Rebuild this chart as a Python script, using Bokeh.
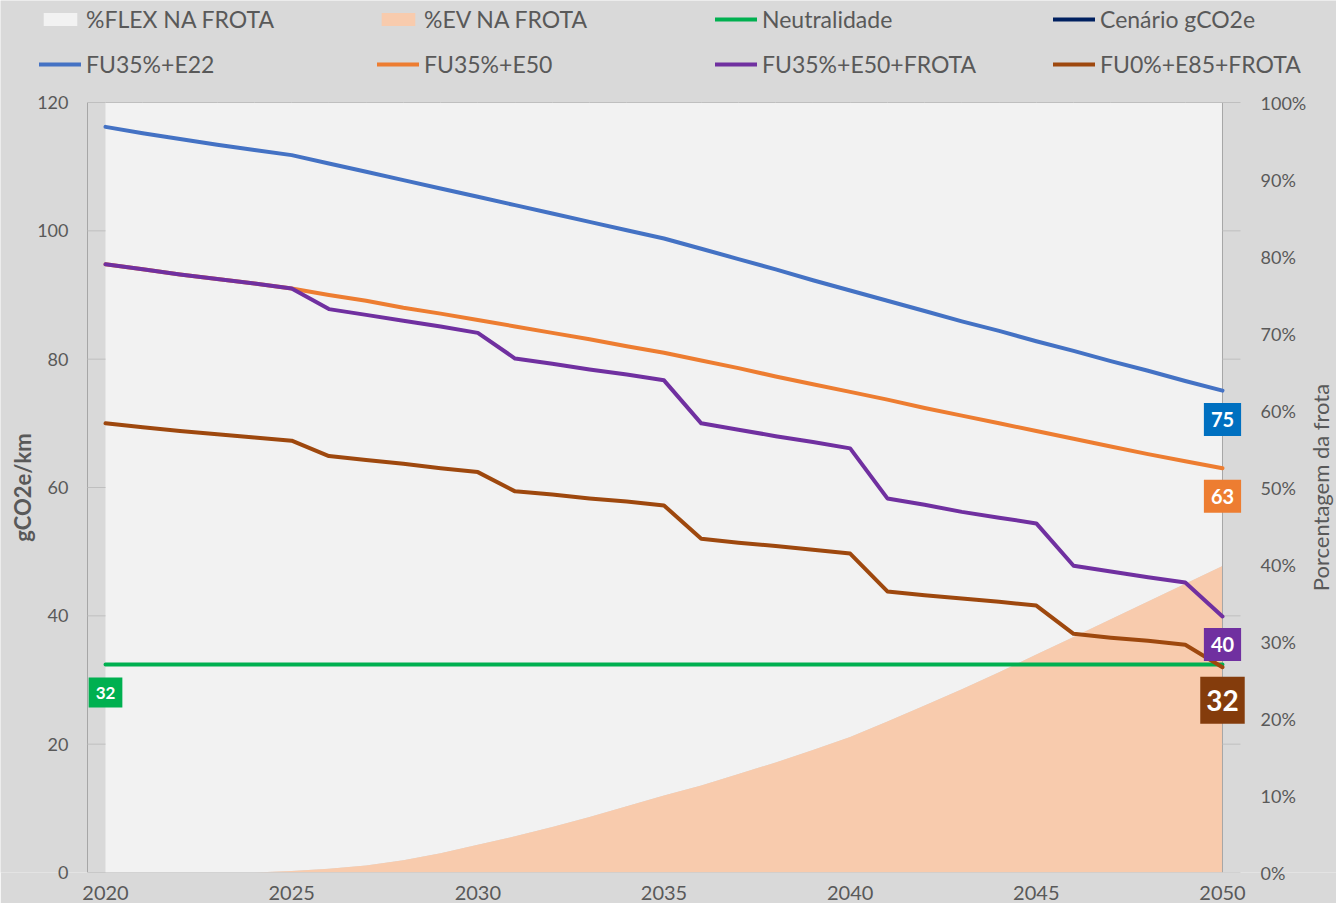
import math
from bokeh.plotting import figure
from bokeh.models import (Range1d, LinearAxis, FixedTicker, NumeralTickFormatter,
                          Legend, LegendItem, Label)
from bokeh.embed import file_html
from bokeh.resources import INLINE

# ---------------- data ----------------
years = list(range(2020, 2051))

fu35_e22 = [116.2, 115.2, 114.3, 113.4, 112.6, 111.8, 110.5, 109.2, 107.9, 106.6,
            105.3, 104.0, 102.7, 101.4, 100.1, 98.8, 97.2, 95.6, 94.0, 92.3,
            90.7, 89.1, 87.5, 85.9, 84.4, 82.8, 81.3, 79.7, 78.2, 76.6, 75.1]

fu35_e50 = [94.8, 94.0, 93.2, 92.5, 91.8, 91.0, 90.0, 89.1, 88.0, 87.1,
            86.1, 85.1, 84.1, 83.1, 82.0, 81.0, 79.8, 78.6, 77.3, 76.1,
            74.9, 73.7, 72.4, 71.2, 70.0, 68.8, 67.6, 66.4, 65.2, 64.1, 63.0]

fu35_e50_frota = [94.8, 94.0, 93.2, 92.5, 91.8, 91.0, 87.8, 86.9, 86.0, 85.1,
                  84.1, 80.1, 79.3, 78.4, 77.6, 76.7, 70.0, 69.0, 68.0, 67.1,
                  66.1, 58.3, 57.3, 56.2, 55.3, 54.4, 47.8, 46.9, 46.0, 45.2, 39.9]

fu0_e85_frota = [70.0, 69.4, 68.8, 68.3, 67.8, 67.3, 64.9, 64.3, 63.7, 63.0,
                 62.4, 59.4, 58.9, 58.3, 57.8, 57.2, 52.0, 51.4, 50.9, 50.3,
                 49.7, 43.8, 43.2, 42.7, 42.2, 41.6, 37.2, 36.6, 36.1, 35.5, 32.0]

neutralidade = [32.4, 32.4, 32.4, 32.4, 32.4, 32.4, 32.4, 32.4, 32.4, 32.4,
                32.4, 32.4, 32.4, 32.4, 32.4, 32.4, 32.4, 32.4, 32.4, 32.4,
                32.4, 32.4, 32.4, 32.4, 32.4, 32.4, 32.4, 32.4, 32.4, 32.4, 32.4]

# "Cenário gCO2e" appears only in the legend (no visible line)
cenario = [math.nan]

ev_pct = [0.0, 0.0, 0.0, 0.0, 0.0, 0.2, 0.5, 0.9, 1.6, 2.5,
          3.6, 4.7, 5.9, 7.2, 8.6, 10.0, 11.3, 12.8, 14.3, 15.9,
          17.6, 19.6, 21.7, 23.8, 26.0, 28.3, 30.6, 32.9, 35.2, 37.5, 39.8]

x_ticks = [2020, 2025, 2030, 2035, 2040, 2045, 2050]
y_ticks = [0, 20, 40, 60, 80, 100, 120]
pct_ticks = [0, 10, 20, 30, 40, 50, 60, 70, 80, 90, 100]

legend_labels = ["%FLEX NA FROTA", "%EV NA FROTA", "Neutralidade", "Cenário gCO2e",
                 "FU35%+E22", "FU35%+E50", "FU35%+E50+FROTA", "FU0%+E85+FROTA"]
left_title = "gCO2e/km"
right_title = "Porcentagem da frota"

# derived shares (0-1) for the stacked 100% area
ev_share = [v / 100 for v in ev_pct]
total_share = [1.0 for _ in years]

# ---------------- style ----------------
BG = "#D9D9D9"
TXT = "#595959"
AX = "#A6A6A6"
TICK = "#BFBFBF"
FONT = "Lato"
C_FLEX = "#F2F2F2"
C_EV = "#F8CBAD"
C_GREEN = "#00B050"
C_NAVY = "#002060"
C_BLUE = "#4472C4"
C_ORANGE = "#ED7D31"
C_PURPLE = "#7030A0"
C_BROWN = "#9E480E"

W, H = 1336, 903
B_BOTTOM = 31
FRAME_H = H - B_BOTTOM                  # 872
PX_PER_YEAR = 37.233
x_start = years[0] - 105 / PX_PER_YEAR
x_end = x_start + W / PX_PER_YEAR
axis_left_x = years[0] - 18 / PX_PER_YEAR   # left value-axis line, half a slot before 2020
PX_PER_UNIT = 770 / 120
y_end = FRAME_H / PX_PER_UNIT

p = figure(width=W, height=H,
           x_range=Range1d(x_start, x_end), y_range=Range1d(0, y_end),
           output_backend="svg", toolbar_location=None,
           min_border_left=0, min_border_right=0,
           min_border_top=0, min_border_bottom=B_BOTTOM,
           background_fill_color=BG, border_fill_color=BG,
           outline_line_color=None)
p.extra_y_ranges = {"pct": Range1d(0, y_end / 120)}
p.xgrid.grid_line_color = None
p.ygrid.grid_line_color = None

flex_r = p.varea(x=years, y1=ev_share, y2=total_share, y_range_name="pct", fill_color=C_FLEX)
ev_r = p.varea(x=years, y1=[0.0 for _ in years], y2=ev_share, y_range_name="pct", fill_color=C_EV)
p.line(x=years, y=total_share, y_range_name="pct", line_color=TICK, line_width=1)

# axis lines and tick marks of the plot area
p.segment(x0=[axis_left_x], y0=[y_ticks[0]], x1=[axis_left_x], y1=[y_ticks[-1]],
          line_color=AX, line_width=1)
p.segment(x0=[years[-1]], y0=[y_ticks[0]], x1=[years[-1]], y1=[y_ticks[-1]],
          line_color=AX, line_width=1)
p.segment(x0=[axis_left_x], y0=[y_ticks[0]], x1=[years[-1]], y1=[y_ticks[0]],
          line_color=TICK, line_width=1)
p.ray(x=[axis_left_x for _ in y_ticks], y=y_ticks, length=18, length_units="screen",
      angle=0, line_color=TICK, line_width=1)
p.ray(x=[years[-1] for _ in y_ticks], y=y_ticks, length=18, length_units="screen",
      angle=0, line_color=TICK, line_width=1)

lw = 4
green_r = p.line(years, neutralidade, line_color=C_GREEN, line_width=lw, line_cap="round")
cen_r = p.line(years[:1], cenario, line_color=C_NAVY, line_width=lw, line_cap="round")
blue_r = p.line(years, fu35_e22, line_color=C_BLUE, line_width=lw, line_cap="round", line_join="round")
orange_r = p.line(years, fu35_e50, line_color=C_ORANGE, line_width=lw, line_cap="round", line_join="round")
purple_r = p.line(years, fu35_e50_frota, line_color=C_PURPLE, line_width=lw, line_cap="round", line_join="round")
brown_r = p.line(years, fu0_e85_frota, line_color=C_BROWN, line_width=lw, line_cap="round", line_join="round")

# axes
xa = p.xaxis[0]
xa.ticker = FixedTicker(ticks=x_ticks)
xa.axis_line_color = None
xa.major_tick_line_color = None
xa.minor_tick_line_color = None
xa.major_label_text_font = FONT
xa.major_label_text_font_size = "20px"
xa.major_label_text_color = TXT
xa.major_label_standoff = 7

ya = p.yaxis[0]
ya.ticker = FixedTicker(ticks=y_ticks)
ya.axis_line_color = None
ya.major_tick_line_color = None
ya.minor_tick_line_color = None
ya.major_tick_in = 0
ya.major_tick_out = 0
ya.major_label_text_font = FONT
ya.major_label_text_font_size = "18px"
ya.major_label_text_color = TXT
ya.major_label_standoff = -68

ra = LinearAxis(y_range_name="pct", ticker=FixedTicker(ticks=[t / 100 for t in pct_ticks]))
ra.formatter = NumeralTickFormatter(format="0%")
ra.axis_line_color = None
ra.major_tick_line_color = None
ra.minor_tick_line_color = None
ra.major_tick_in = 0
ra.major_tick_out = 0
ra.major_label_text_font = FONT
ra.major_label_text_font_size = "18px"
ra.major_label_text_color = TXT
ra.major_label_standoff = -76
p.add_layout(ra, "right")

# axis titles (centred on the value span 0..120)
p.add_layout(Label(x=x_start + 22 / PX_PER_YEAR, y=y_ticks[-1] / 2, text=left_title,
                   angle=math.pi / 2, text_align="center", text_baseline="middle",
                   text_font=FONT, text_font_size="22px", text_font_style="bold",
                   text_color=TXT))
p.add_layout(Label(x=years[-1] + 98 / PX_PER_YEAR, y=y_ticks[-1] / 2, text=right_title,
                   angle=math.pi / 2, text_align="center", text_baseline="middle",
                   text_font=FONT, text_font_size="22px", text_font_style="normal",
                   text_color=TXT))

# legend (inside the frame, at its top)
renderers = [flex_r, ev_r, green_r, cen_r, blue_r, orange_r, purple_r, brown_r]
items = [LegendItem(label=lab, renderers=[r]) for lab, r in zip(legend_labels, renderers)]
legend = Legend(items=items, location=(39, 794), orientation="horizontal", ncols=4,
                glyph_width=42, glyph_height=16, label_standoff=5, label_width=274,
                label_height=16, spacing=17, padding=0, margin=0,
                border_line_color=None, background_fill_alpha=0,
                label_text_font=FONT, label_text_font_size="23px",
                label_text_color=TXT)
p.add_layout(legend, "center")

# value labels
def add_box(x, y, text, color, size, dy, ph, pv):
    p.add_layout(Label(x=x, y=y, text=text, y_offset=dy,
                       text_align="center", text_baseline="middle",
                       text_color="white", text_font=FONT, text_font_style="bold",
                       text_font_size=size, background_fill_color=color,
                       padding=dict(left=ph, right=ph, top=pv, bottom=pv)))

add_box(years[0], neutralidade[0], f"{round(neutralidade[0])}", C_GREEN, "17px", -28, 7, 9)
add_box(years[-1], fu35_e22[-1], f"{round(fu35_e22[-1])}", "#0070C0", "20px", -29, 7, 9)
add_box(years[-1], fu35_e50[-1], f"{round(fu35_e50[-1])}", C_ORANGE, "20px", -28, 7, 9)
add_box(years[-1], fu35_e50_frota[-1], f"{round(fu35_e50_frota[-1])}", C_PURPLE, "20px", -28, 7, 9)
add_box(years[-1], fu0_e85_frota[-1], f"{round(fu0_e85_frota[-1])}", "#843C0C", "28px", -33, 6, 13)

html = file_html(p, INLINE)
html = html.replace("<body>", '<body style="background-color:#D9D9D9;">', 1)
open("out.html", "w").write(html)
